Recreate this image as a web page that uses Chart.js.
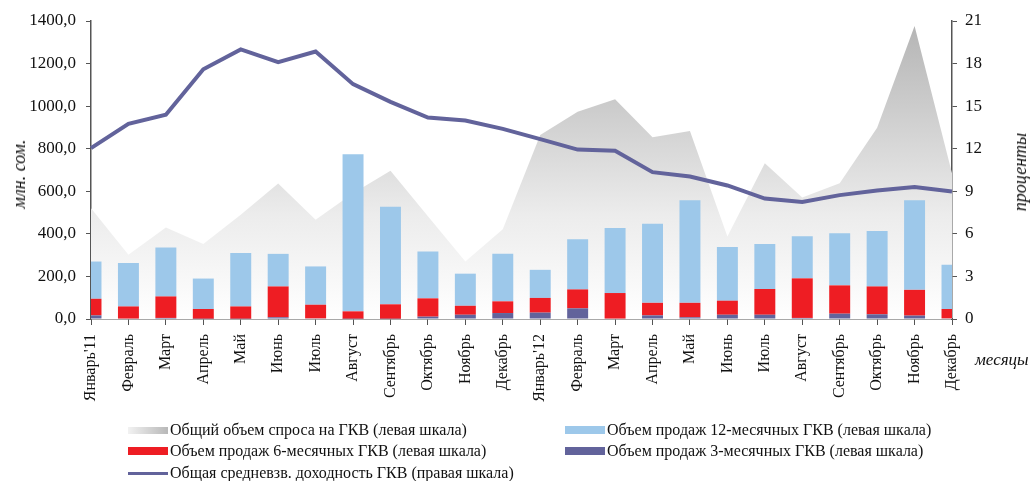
<!DOCTYPE html>
<html>
<head>
<meta charset="utf-8">
<script src="https://cdn.jsdelivr.net/npm/chart.js@4"></script>
<style>
    body { margin: 0; background: #fff; }
    #wrap { position: relative; width: 1031px; height: 481px; font-family: 'Liberation Serif', 'Times New Roman', serif; color: #111; }
    canvas { position: absolute; left: 0; top: 0; }
    .note { position: absolute; font-style: italic; font-size: 18px; white-space: nowrap; line-height: 20px; }
    .rot { transform: translate(-50%, -50%) rotate(-90deg); }
    .leg { position: absolute; font-size: 16px; line-height: 18px; white-space: nowrap; display: flex; align-items: center; }
    .mark { display: inline-block; width: 40px; margin-right: 2px; }
</style>
</head>
<body>
<div id="wrap">
    <canvas id="chart" width="1031" height="481"></canvas>
    <div class="note rot" style="left:19px; top:174px;">млн. сом.</div>
    <div class="note rot" style="left:1020px; top:172px;">проценты</div>
    <div class="note" style="left:975px; top:350px; font-size:17px;">месяцы</div>

    <div class="leg" style="left:128px; top:421px;"><span class="mark" style="height:7px; background:linear-gradient(to right,#f2f2f2,#b8b8b8);"></span>Общий объем спроса на ГКВ (левая шкала)</div>
    <div class="leg" style="left:128px; top:442px;"><span class="mark" style="height:8px; background:#ee1d23;"></span>Объем продаж 6-месячных ГКВ (левая шкала)</div>
    <div class="leg" style="left:128px; top:464px;"><span class="mark" style="height:3px; background:#62639b;"></span>Общая средневзв. доходность ГКВ (правая шкала)</div>
    <div class="leg" style="left:565px; top:421px;"><span class="mark" style="height:8px; background:#9dc8ea;"></span>Объем продаж 12-месячных ГКВ (левая шкала)</div>
    <div class="leg" style="left:565px; top:442px;"><span class="mark" style="height:8px; background:#62639b;"></span>Объем продаж 3-месячных ГКВ (левая шкала)</div>
</div>

<script>
// months, Jan 2011 - Dec 2012
const months = ["Январь'11", 'Февраль', 'Март', 'Апрель', 'Май', 'Июнь', 'Июль', 'Август',
    'Сентябрь', 'Октябрь', 'Ноябрь', 'Декабрь', "Январь'12", 'Февраль', 'Март', 'Апрель',
    'Май', 'Июнь', 'Июль', 'Август', 'Сентябрь', 'Октябрь', 'Ноябрь', 'Декабрь'];

// total demand, mln som (left axis)
const demandTotal = [520, 302, 430, 352, 490, 637, 466, 591, 697, 483, 270, 422,
    865, 974, 1032, 854, 883, 388, 732, 571, 638, 899, 1376, 685];

// sales by maturity, mln som (left axis, stacked)
const sales3m = [17, 2, 5, 1, 1, 8, 3, 1, 1, 11, 20, 28, 30, 50, 2, 17, 8, 20, 20, 5, 25, 22, 16, 3];
const sales6m = [78, 57, 101, 46, 58, 145, 64, 35, 68, 86, 42, 55, 69, 89, 120, 59, 68, 66, 121, 186, 133, 131, 121, 44];
const sales12m = [175, 204, 230, 143, 251, 153, 180, 738, 458, 220, 151, 223, 132, 236, 305, 371, 482, 252, 211, 198, 245, 261, 421, 208];

// weighted average yield, % (right axis)
const yieldAvg = [12.04, 13.75, 14.4, 17.6, 19.0, 18.1, 18.85, 16.55, 15.3, 14.2, 13.99, 13.4,
    12.68, 11.94, 11.85, 10.35, 10.04, 9.41, 8.49, 8.24, 8.73, 9.06, 9.3, 8.99];

const serif = "'Liberation Serif', 'Times New Roman', serif";
const axisColor = '#555';

function grayFill(context) {
    const { ctx, chartArea } = context.chart;
    if (!chartArea) return '#ddd';
    const g = ctx.createLinearGradient(0, chartArea.top, 0, chartArea.bottom);
    g.addColorStop(0, '#b4b4b4');
    g.addColorStop(0.3, '#cdcdcd');
    g.addColorStop(0.65, '#ececec');
    g.addColorStop(1, '#ffffff');
    return g;
}

const ctx = document.getElementById('chart').getContext('2d');
const chart = new Chart(ctx, {
    type: 'bar',
    data: {
        labels: months,
        datasets: [
            {
                type: 'line',
                label: 'Общая средневзв. доходность ГКВ (правая шкала)',
                data: yieldAvg,
                yAxisID: 'y1',
                borderColor: '#62639b',
                borderWidth: 4,
                pointRadius: 0,
                tension: 0,
                order: 0
            },
            {
                label: 'Объем продаж 3-месячных ГКВ (левая шкала)',
                data: sales3m,
                backgroundColor: '#62639b',
                stack: 'sales',
                order: 1
            },
            {
                label: 'Объем продаж 6-месячных ГКВ (левая шкала)',
                data: sales6m,
                backgroundColor: '#ee1d23',
                stack: 'sales',
                order: 1
            },
            {
                label: 'Объем продаж 12-месячных ГКВ (левая шкала)',
                data: sales12m,
                backgroundColor: '#9dc8ea',
                stack: 'sales',
                order: 1
            },
            {
                type: 'line',
                label: 'Общий объем спроса на ГКВ (левая шкала)',
                data: demandTotal,
                stack: 'demand',
                backgroundColor: grayFill,
                borderWidth: 0,
                pointRadius: 0,
                fill: 'origin',
                tension: 0,
                order: 2
            }
        ]
    },
    options: {
        responsive: false,
        animation: false,
        layout: { padding: { top: 21, left: 0, right: 0, bottom: 0 } },
        datasets: {
            bar: { categoryPercentage: 1, barPercentage: 0.56 }
        },
        plugins: {
            legend: { display: false },
            tooltip: { enabled: false }
        },
        scales: {
            x: {
                offset: false,
                grid: { offset: false, drawOnChartArea: false, tickLength: 6, color: axisColor },
                border: { color: axisColor, width: 1.5 },
                ticks: {
                    autoSkip: false,
                    maxRotation: 90,
                    minRotation: 90,
                    padding: 9,
                    color: '#111',
                    font: { family: serif, size: 16 }
                },
                afterFit: (scale) => { scale.height = 162; }
            },
            y: {
                position: 'left',
                stacked: true,
                min: 0,
                max: 1400,
                grid: { drawOnChartArea: false, tickLength: 5, color: axisColor },
                border: { color: axisColor, width: 1.5 },
                ticks: {
                    stepSize: 200,
                    padding: 10,
                    color: '#111',
                    font: { family: serif, size: 17 },
                    callback: (v) => v.toFixed(1).replace('.', ',')
                },
                afterFit: (scale) => { scale.width = 91; }
            },
            y1: {
                position: 'right',
                min: 0,
                max: 21,
                grid: { drawOnChartArea: false, tickLength: 5, color: axisColor },
                border: { color: axisColor, width: 1.5 },
                ticks: {
                    stepSize: 3,
                    padding: 8,
                    color: '#111',
                    font: { family: serif, size: 17 }
                },
                afterFit: (scale) => { scale.width = 79; }
            }
        }
    }
});
</script>
</body>
</html>
